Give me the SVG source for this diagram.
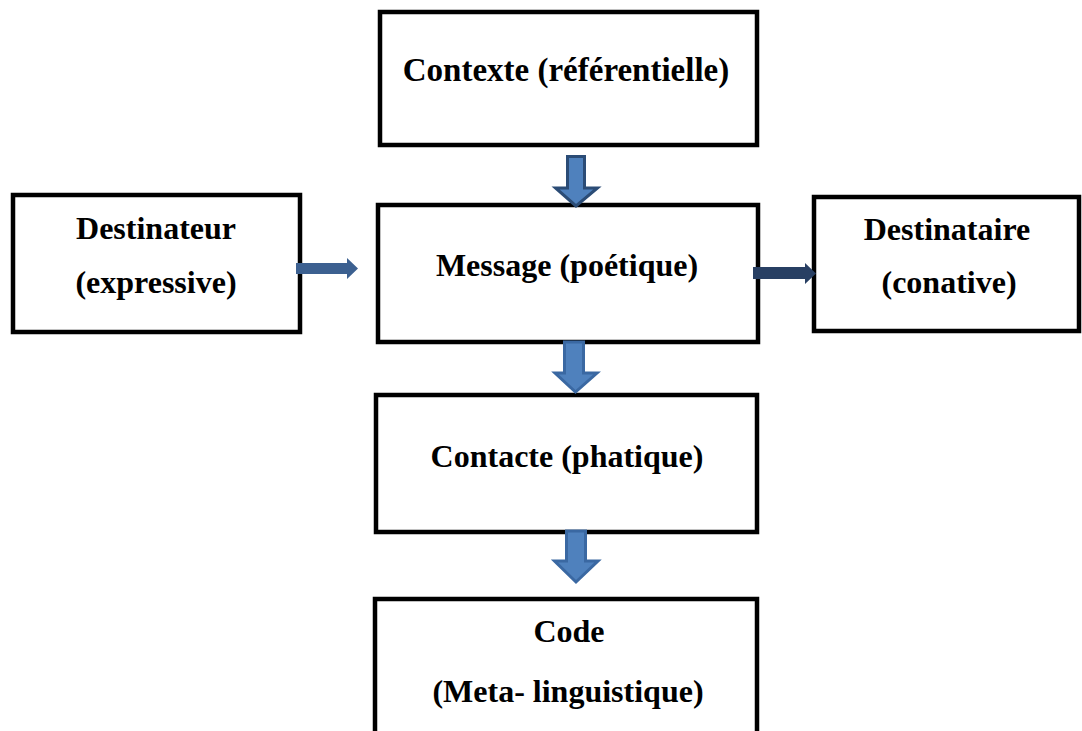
<svg xmlns="http://www.w3.org/2000/svg" width="1082" height="731" viewBox="0 0 1082 731">
<style>
.box{fill:#fff;stroke:#000;stroke-width:4.5}
.t{font-family:"Liberation Serif","Times New Roman",serif;font-weight:bold;font-size:32px;fill:#000;text-anchor:middle}
.da{fill:#4F81BD;stroke-width:3;stroke-linejoin:miter}
</style>
<rect width="1082" height="731" fill="#fff"/>
<g id="contexte"><rect class="box" x="380" y="12" width="377" height="133"/><text class="t" x="566" y="81" style="font-size:33px">Contexte (référentielle)</text></g>
<g id="destinateur"><rect class="box" x="13" y="195" width="287" height="137"/><text class="t" x="156" y="239">Destinateur</text><text class="t" x="156" y="293">(expressive)</text></g>
<g id="message"><rect class="box" x="378" y="205" width="380" height="137"/><text class="t" x="567" y="276">Message (poétique)</text></g>
<g id="destinataire"><rect class="box" x="814" y="197" width="265" height="134"/><text class="t" x="947" y="240">Destinataire</text><text class="t" x="949" y="293">(conative)</text></g>
<g id="contacte"><rect class="box" x="376" y="395" width="381" height="137"/><text class="t" x="567" y="467">Contacte (phatique)</text></g>
<g id="code"><rect class="box" x="375" y="599" width="382" height="200"/><text class="t" x="569" y="642">Code</text><text class="t" x="568" y="702">(Meta- linguistique)</text></g>
<g id="connectors">
<polygon class="da" stroke="#2B4C76" points="567.5,156.5 584.5,156.5 584.5,188 597.5,188 576,206 555.5,188 567.5,188"/>
<polygon class="da" stroke="#3A68A2" points="564.5,342 583.5,342 583.5,373 597,373 575.5,392 555,373 564.5,373"/>
<polygon class="da" stroke="#3A68A2" points="566.5,531 585.5,531 585.5,561 598,561 576,582 554.5,561 566.5,561"/>
<polygon fill="#3C6090" points="296,263 347,263 347,258 358,268.5 347,279 347,274 296,274"/>
<polygon fill="#283F63" points="753,267 805,267 805,263 816,273.5 805,284 805,279 753,279"/>
</g>
</svg>
